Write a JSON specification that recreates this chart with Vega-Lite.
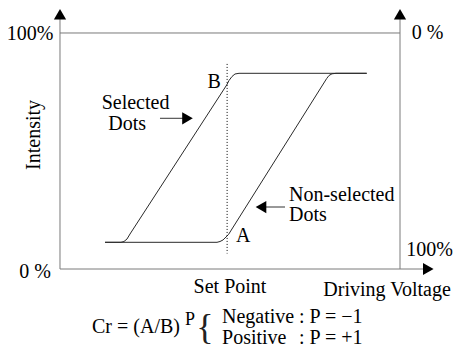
{
  "$schema": "https://vega.github.io/schema/vega-lite/v6.json",
  "width": 454,
  "height": 353,
  "autosize": {"type": "fit", "contains": "padding"},
  "padding": 0,
  "background": "white",
  "config": {"view": {"stroke": null}},
  "datasets": {
    "frame": [
      {"x": 0, "y": 0, "x2": 0, "y2": 105.9},
      {"x": 100, "y": 0, "x2": 100, "y2": 105.9},
      {"x": 0, "y": 0, "x2": 106.8, "y2": 0},
      {"x": 0, "y": 100, "x2": 100, "y2": 100}
    ],
    "pointers": [
      {"x": 29.41, "y": 63.86, "x2": 36.5, "y2": 63.86},
      {"x": 60.3, "y": 26.27, "x2": 66.18, "y2": 26.27}
    ],
    "heads": [
      {"x": 0, "y": 107.92, "dir": "up", "kind": "axis"},
      {"x": 100, "y": 107.92, "dir": "up", "kind": "axis"},
      {"x": 108.32, "y": 0, "dir": "right", "kind": "axis"},
      {"x": 37.5, "y": 63.86, "dir": "right", "kind": "pointer"},
      {"x": 59.12, "y": 26.27, "dir": "left", "kind": "pointer"}
    ],
    "curves": [
      {"series": "Selected", "i": 0, "x": 13.24, "y": 11.31},
      {"series": "Selected", "i": 1, "x": 17.94, "y": 11.31},
      {"series": "Selected", "i": 2, "x": 18.82, "y": 11.65},
      {"series": "Selected", "i": 3, "x": 19.71, "y": 12.71},
      {"series": "Selected", "i": 4, "x": 20.59, "y": 14.83},
      {"series": "Selected", "i": 5, "x": 49.03, "y": 77.97},
      {"series": "Selected", "i": 6, "x": 49.71, "y": 79.87},
      {"series": "Selected", "i": 7, "x": 50.59, "y": 81.57},
      {"series": "Selected", "i": 8, "x": 51.47, "y": 82.63},
      {"series": "Selected", "i": 9, "x": 52.65, "y": 82.92},
      {"series": "Selected", "i": 10, "x": 90.21, "y": 82.92},
      {"series": "Non-selected", "i": 0, "x": 13.24, "y": 11.31},
      {"series": "Non-selected", "i": 1, "x": 46.18, "y": 11.31},
      {"series": "Non-selected", "i": 2, "x": 47.06, "y": 11.65},
      {"series": "Non-selected", "i": 3, "x": 47.94, "y": 12.29},
      {"series": "Non-selected", "i": 4, "x": 48.82, "y": 13.56},
      {"series": "Non-selected", "i": 5, "x": 49.56, "y": 14.62},
      {"series": "Non-selected", "i": 6, "x": 78.44, "y": 80.72},
      {"series": "Non-selected", "i": 7, "x": 79.12, "y": 81.99},
      {"series": "Non-selected", "i": 8, "x": 80.0, "y": 82.71},
      {"series": "Non-selected", "i": 9, "x": 81.18, "y": 82.92},
      {"series": "Non-selected", "i": 10, "x": 90.21, "y": 82.92}
    ],
    "setpoint": [{"x": 49.15, "y": 86.9, "y2": 6.57}],
    "centerLabels": [
      {"text": "100%", "x": -8.82, "y": 99.6},
      {"text": "0 %", "x": 108.1, "y": 99.9},
      {"text": "0 %", "x": -7.35, "y": -1.13},
      {"text": "100%", "x": 108.7, "y": 8.05},
      {"text": "Set Point", "x": 50, "y": -7.6},
      {"text": "Driving Voltage", "x": 96.2, "y": -8.9},
      {"text": "B", "x": 45.35, "y": 79.4},
      {"text": "A", "x": 53.9, "y": 14.07}
    ],
    "leftLabels": [
      {"text": "Selected", "x": 12.26, "y": 70.13},
      {"text": "Dots", "x": 14.22, "y": 61.44},
      {"text": "Non-selected", "x": 67.35, "y": 31.36},
      {"text": "Dots", "x": 67.35, "y": 22.67},
      {"text": "Cr = (A/B)", "x": 9.41, "y": -24.58},
      {"text": "Negative", "x": 47.65, "y": -20.55},
      {"text": ": P = −1", "x": 70.3, "y": -20.55},
      {"text": "Positive", "x": 47.65, "y": -29.24},
      {"text": ": P = +1", "x": 70.3, "y": -29.24}
    ],
    "sup": [{"text": "P", "x": 36.76, "y": -21.6}],
    "brace": [{"text": "{", "x": 42.65, "y": -25.2}],
    "yTitle": [{"text": "Intensity", "x": -7.65, "y": 56.8}]
  },
  "encoding": {
    "x": {"field": "x", "type": "quantitative", "scale": {"domain": [-17.647, 115.882], "nice": false, "zero": false}, "axis": null},
    "y": {"field": "y", "type": "quantitative", "scale": {"domain": [-35.593, 113.983], "nice": false, "zero": false}, "axis": null}
  },
  "layer": [
    {
      "data": {"name": "frame"},
      "mark": {"type": "rule", "color": "#7a7a7a", "strokeWidth": 1},
      "encoding": {"x2": {"field": "x2"}, "y2": {"field": "y2"}}
    },
    {
      "data": {"name": "pointers"},
      "mark": {"type": "rule", "color": "#333333", "strokeWidth": 1},
      "encoding": {"x2": {"field": "x2"}, "y2": {"field": "y2"}}
    },
    {
      "data": {"name": "heads"},
      "mark": {"type": "point", "filled": true, "opacity": 1, "color": "black", "size": 150},
      "encoding": {
        "shape": {"field": "dir", "type": "nominal", "scale": {"domain": ["up", "right", "left"], "range": ["triangle-up", "triangle-right", "triangle-left"]}, "legend": null}
      }
    },
    {
      "data": {"name": "curves"},
      "mark": {"type": "line", "color": "#2a2a2a", "strokeWidth": 1},
      "encoding": {"detail": {"field": "series"}, "order": {"field": "i", "type": "quantitative"}}
    },
    {
      "data": {"name": "setpoint"},
      "mark": {"type": "rule", "color": "black", "strokeWidth": 1, "strokeDash": [1, 2]},
      "encoding": {"y2": {"field": "y2"}}
    },
    {
      "data": {"name": "centerLabels"},
      "mark": {"type": "text", "align": "center", "baseline": "middle", "font": "Liberation Serif", "fontSize": 20, "color": "black"},
      "encoding": {"text": {"field": "text"}}
    },
    {
      "data": {"name": "leftLabels"},
      "mark": {"type": "text", "align": "left", "baseline": "middle", "font": "Liberation Serif", "fontSize": 20, "color": "black"},
      "encoding": {"text": {"field": "text"}}
    },
    {
      "data": {"name": "sup"},
      "mark": {"type": "text", "align": "left", "baseline": "middle", "font": "Liberation Serif", "fontSize": 18, "color": "black"},
      "encoding": {"text": {"field": "text"}}
    },
    {
      "data": {"name": "brace"},
      "mark": {"type": "text", "align": "center", "baseline": "middle", "font": "Liberation Serif", "fontSize": 36, "color": "#222222"},
      "encoding": {"text": {"field": "text"}}
    },
    {
      "data": {"name": "yTitle"},
      "mark": {"type": "text", "align": "center", "baseline": "middle", "angle": 270, "font": "Liberation Serif", "fontSize": 20, "color": "black"},
      "encoding": {"text": {"field": "text"}}
    }
  ]
}
